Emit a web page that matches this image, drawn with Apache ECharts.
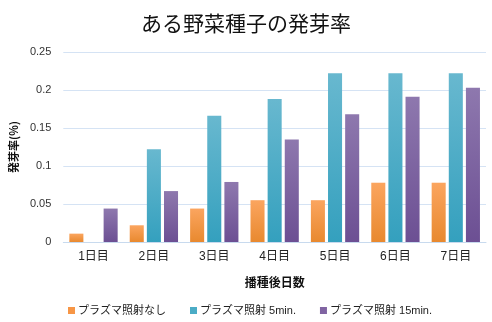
<!DOCTYPE html>
<html><head><meta charset="utf-8">
<script src="https://cdn.jsdelivr.net/npm/echarts@6/dist/echarts.min.js"></script>
<style>html,body{margin:0;padding:0;background:#fff}#c{width:492px;height:322px}</style>
</head><body><div id="c"></div>
<script>
const categories = ['1日目','2日目','3日目','4日目','5日目','6日目','7日目'];
const seriesNames = ['プラズマ照射なし','プラズマ照射 5min.','プラズマ照射 15min.'];
const valsNone = [0.011, 0.022, 0.044, 0.055, 0.055, 0.078, 0.078];
const vals5 = [0, 0.122, 0.166, 0.188, 0.222, 0.222, 0.222];
const vals15 = [0.044, 0.067, 0.079, 0.135, 0.168, 0.191, 0.203];
const yTicks = { min: 0, max: 0.25, interval: 0.05 };

const FONT = "'Liberation Sans','Noto Sans CJK JP',sans-serif";
const grad = (t, b) => new echarts.graphic.LinearGradient(0, 0, 0, 1, [{offset:0,color:t},{offset:1,color:b}]);
const colors = [grad('#FBA55F','#E8892F'), grad('#68B8CF','#34A0BE'), grad('#8E78AE','#6C4F93')];
const legendColors = ['#F79646','#4BACC6','#8064A2'];
const data = [valsNone, vals5, vals15];

const chart = echarts.init(document.getElementById('c'), null, {renderer:'canvas'});
chart.setOption({
  animation: false,
  textStyle: { fontFamily: FONT },
  title: {
    text: 'ある野菜種子の発芽率', left: 'center', top: 8,
    textStyle: { fontFamily: "'Noto Sans CJK JP',sans-serif", fontSize: 21, fontWeight: 'normal', color: '#111' }
  },
  grid: { left: 58, right: 6, top: 52, bottom: 80 },
  legend: {
    data: seriesNames.map((n, i) => ({ name: n, itemStyle: { color: legendColors[i] } })),
    left: 63, top: 300, icon: 'rect', itemWidth: 7, itemHeight: 7, itemGap: 24,
    textStyle: { fontSize: 11, color: '#222', fontFamily: FONT, padding: [0,0,0,-2] }
  },
  xAxis: {
    type: 'category', data: categories,
    name: '播種後日数', nameLocation: 'middle', nameGap: 34,
    nameTextStyle: { fontSize: 12, fontWeight: 'bold', color: '#111', fontFamily: "'Noto Sans CJK JP',sans-serif" },
    axisLine: { lineStyle: { color: '#C8DAEE', width: 1 } },
    axisTick: { show: false },
    axisLabel: { fontSize: 12, color: '#222', margin: 9 }
  },
  yAxis: {
    type: 'value', min: yTicks.min, max: yTicks.max, interval: yTicks.interval,
    name: '発芽率(%)', nameLocation: 'middle', nameRotate: 90, nameGap: 39,
    nameTextStyle: { fontSize: 11, fontWeight: 'bold', color: '#111', fontFamily: "'Noto Sans CJK JP',sans-serif" },
    axisLine: { show: false }, axisTick: { show: false },
    axisLabel: { fontSize: 11, color: '#333', margin: 12 },
    splitLine: { lineStyle: { color: '#D5E3F4', width: 1 } }
  },
  series: seriesNames.map((n, i) => ({
    name: n, type: 'bar', data: data[i],
    barGap: '22%', barCategoryGap: '20%',
    itemStyle: { color: colors[i] }
  }))
});
</script></body></html>
